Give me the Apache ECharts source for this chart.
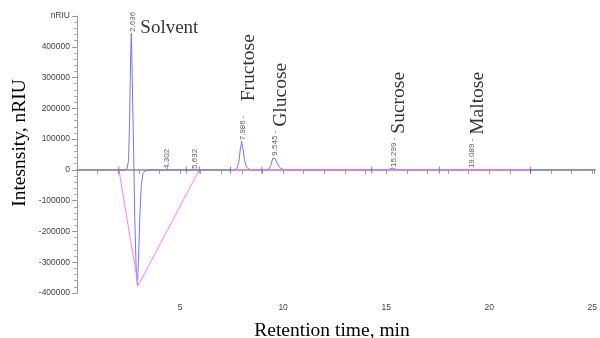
<!DOCTYPE html>
<html>
<head>
<meta charset="utf-8">
<script src="https://cdn.jsdelivr.net/npm/echarts@6/dist/echarts.min.js"></script>
<style>
  html, body { margin: 0; padding: 0; background: #fff; }
  #main { width: 600px; height: 338px; }
</style>
</head>
<body>
<div id="main"></div>
<script>
// detector trace (min, nRIU)
var signalTime = [0, 2.3, 2.42, 2.5, 2.55, 2.6, 2.636, 2.68, 2.75, 2.8, 2.87, 2.93, 2.98, 3.05, 3.12, 3.2, 3.3, 3.5,
  7.6, 7.75, 7.85, 7.92, 7.986, 8.05, 8.12, 8.22, 8.35, 8.6,
  9.2, 9.33, 9.42, 9.5, 9.545, 9.62, 9.72, 9.85, 10.0, 10.3,
  15.0, 15.15, 15.299, 15.45, 15.7,
  18.85, 19.0, 19.089, 19.2, 19.4, 25.2];
var signalValue = [0, 0, 3000, 30000, 150000, 360000, 445000, 300000, 50000, -150000, -320000, -375000, -300000, -150000, -50000, -12000, -3000, 0,
  0, 3000, 25000, 65000, 93000, 70000, 35000, 10000, 2000, 0,
  0, 4000, 18000, 38000, 43000, 36000, 20000, 7000, 1500, 0,
  0, 2000, 6000, 2000, 0,
  0, 1500, 2500, 1500, 0, 0];

// integration baselines
var baseA = [[2.03, 0], [2.97, -376000], [5.93, 0]];
var baseB = [[7.45, 0], [22.0, 0]];
var baseMarks = [2.03, 5.3, 5.93, 7.45, 8.97, 14.3, 17.58, 22.0];

// peaks
var peakTimes = [2.636, 4.302, 5.632, 7.986, 9.545, 15.299, 19.089];
var peakHeights = [445000, 0, 0, 93000, 43000, 6000, 2500];
var peakTags = ['2.636', '4.302', '5.632', '7.986 -', '9.545 -', '15.299 -', '19.089 -'];
var peakNames = ['', '', '', 'Fructose', 'Glucose', 'Sucrose', 'Maltose'];

var yTicks = [-400000, 500000, 100000];

var chart = echarts.init(document.getElementById('main'));

var trace = signalTime.map(function (t, i) { return [t, signalValue[i]]; });
var tagData = peakTimes.map(function (t, i) {
  var item = { value: [t, peakHeights[i]] };
  if (!peakNames[i]) item.label = { offset: [0, 1.5] };
  return item;
});

var option = {
  animation: false,
  grid: { left: 77, right: 0, top: 16, bottom: 45 },
  xAxis: {
    type: 'value',
    min: 0,
    max: 25.1,
    interval: 1,
    offset: 4,
    splitLine: { show: false },
    axisLine: { lineStyle: { color: '#aaa', width: 2 } },
    axisTick: { length: 4, lineStyle: { color: '#999' } },
    axisLabel: {
      fontFamily: 'Liberation Sans',
      fontSize: 8.5,
      color: '#444',
      margin: 6,
      formatter: function (v) { return (v > 0 && v % 5 === 0) ? String(v) : ''; }
    }
  },
  yAxis: {
    type: 'value',
    min: yTicks[0],
    max: yTicks[1],
    interval: yTicks[2],
    splitLine: { show: false },
    axisLine: { show: true, lineStyle: { color: '#999' } },
    axisTick: { show: true, length: 5, lineStyle: { color: '#999' } },
    minorTick: { show: true, splitNumber: 5, length: 3, lineStyle: { color: '#aaa' } },
    axisLabel: {
      fontFamily: 'Liberation Sans',
      fontSize: 8.5,
      color: '#444',
      margin: 7,
      formatter: function (v) { return v === 500000 ? 'nRIU' : String(v); }
    }
  },
  graphic: [
    {
      type: 'text', x: 20, y: 143, rotation: Math.PI / 2,
      style: { text: 'Intesnsity, nRIU', font: '19.5px "Liberation Serif"', fill: '#000', align: 'center', verticalAlign: 'middle' }
    },
    {
      type: 'text', x: 332, y: 331,
      style: { text: 'Retention time, min', font: '19.5px "Liberation Serif"', fill: '#000', align: 'center', verticalAlign: 'middle' }
    }
  ],
  series: [
    {
      type: 'line', data: trace, showSymbol: false, z: 2,
      lineStyle: { color: '#7474ff', width: 1 }
    },
    {
      type: 'line', data: baseA, showSymbol: false, z: 3,
      lineStyle: { color: '#ff78ff', width: 1 }
    },
    {
      type: 'line', data: baseB, showSymbol: false, z: 3,
      lineStyle: { color: '#ff78ff', width: 1 }
    },
    {
      type: 'scatter', z: 4,
      data: baseMarks.map(function (t) { return [t, 0]; }),
      symbol: 'rect', symbolSize: [1, 7],
      itemStyle: { color: '#666' }
    },
    {
      type: 'scatter', z: 5,
      data: tagData,
      symbolSize: 0,
      label: {
        show: true,
        position: 'top',
        distance: 1,
        rotate: 90,
        align: 'left',
        verticalAlign: 'middle',
        offset: [0, 7],
        formatter: function (p) {
          var i = p.dataIndex;
          var s = '{t|' + peakTags[i] + '}';
          if (peakNames[i]) s += (i === 3 ? '{gw|}' : '{g|}') + '{n|' + peakNames[i] + '}';
          return s;
        },
        rich: {
          t: { fontFamily: 'Liberation Sans', fontSize: 8, color: '#333', verticalAlign: 'top' },
          g: { width: 4 },
          gw: { width: 14 },
          n: { fontFamily: 'Liberation Serif', fontSize: 19.5, color: '#000' }
        }
      }
    },
    {
      type: 'scatter', z: 5,
      data: [tagData[0].value],
      symbolSize: 0,
      label: {
        show: true,
        position: 'right',
        distance: 9,
        offset: [0, -5],
        formatter: 'Solvent',
        fontFamily: 'Liberation Serif',
        fontSize: 19,
        color: '#000'
      }
    }
  ]
};

chart.setOption(option);
</script>
</body>
</html>
